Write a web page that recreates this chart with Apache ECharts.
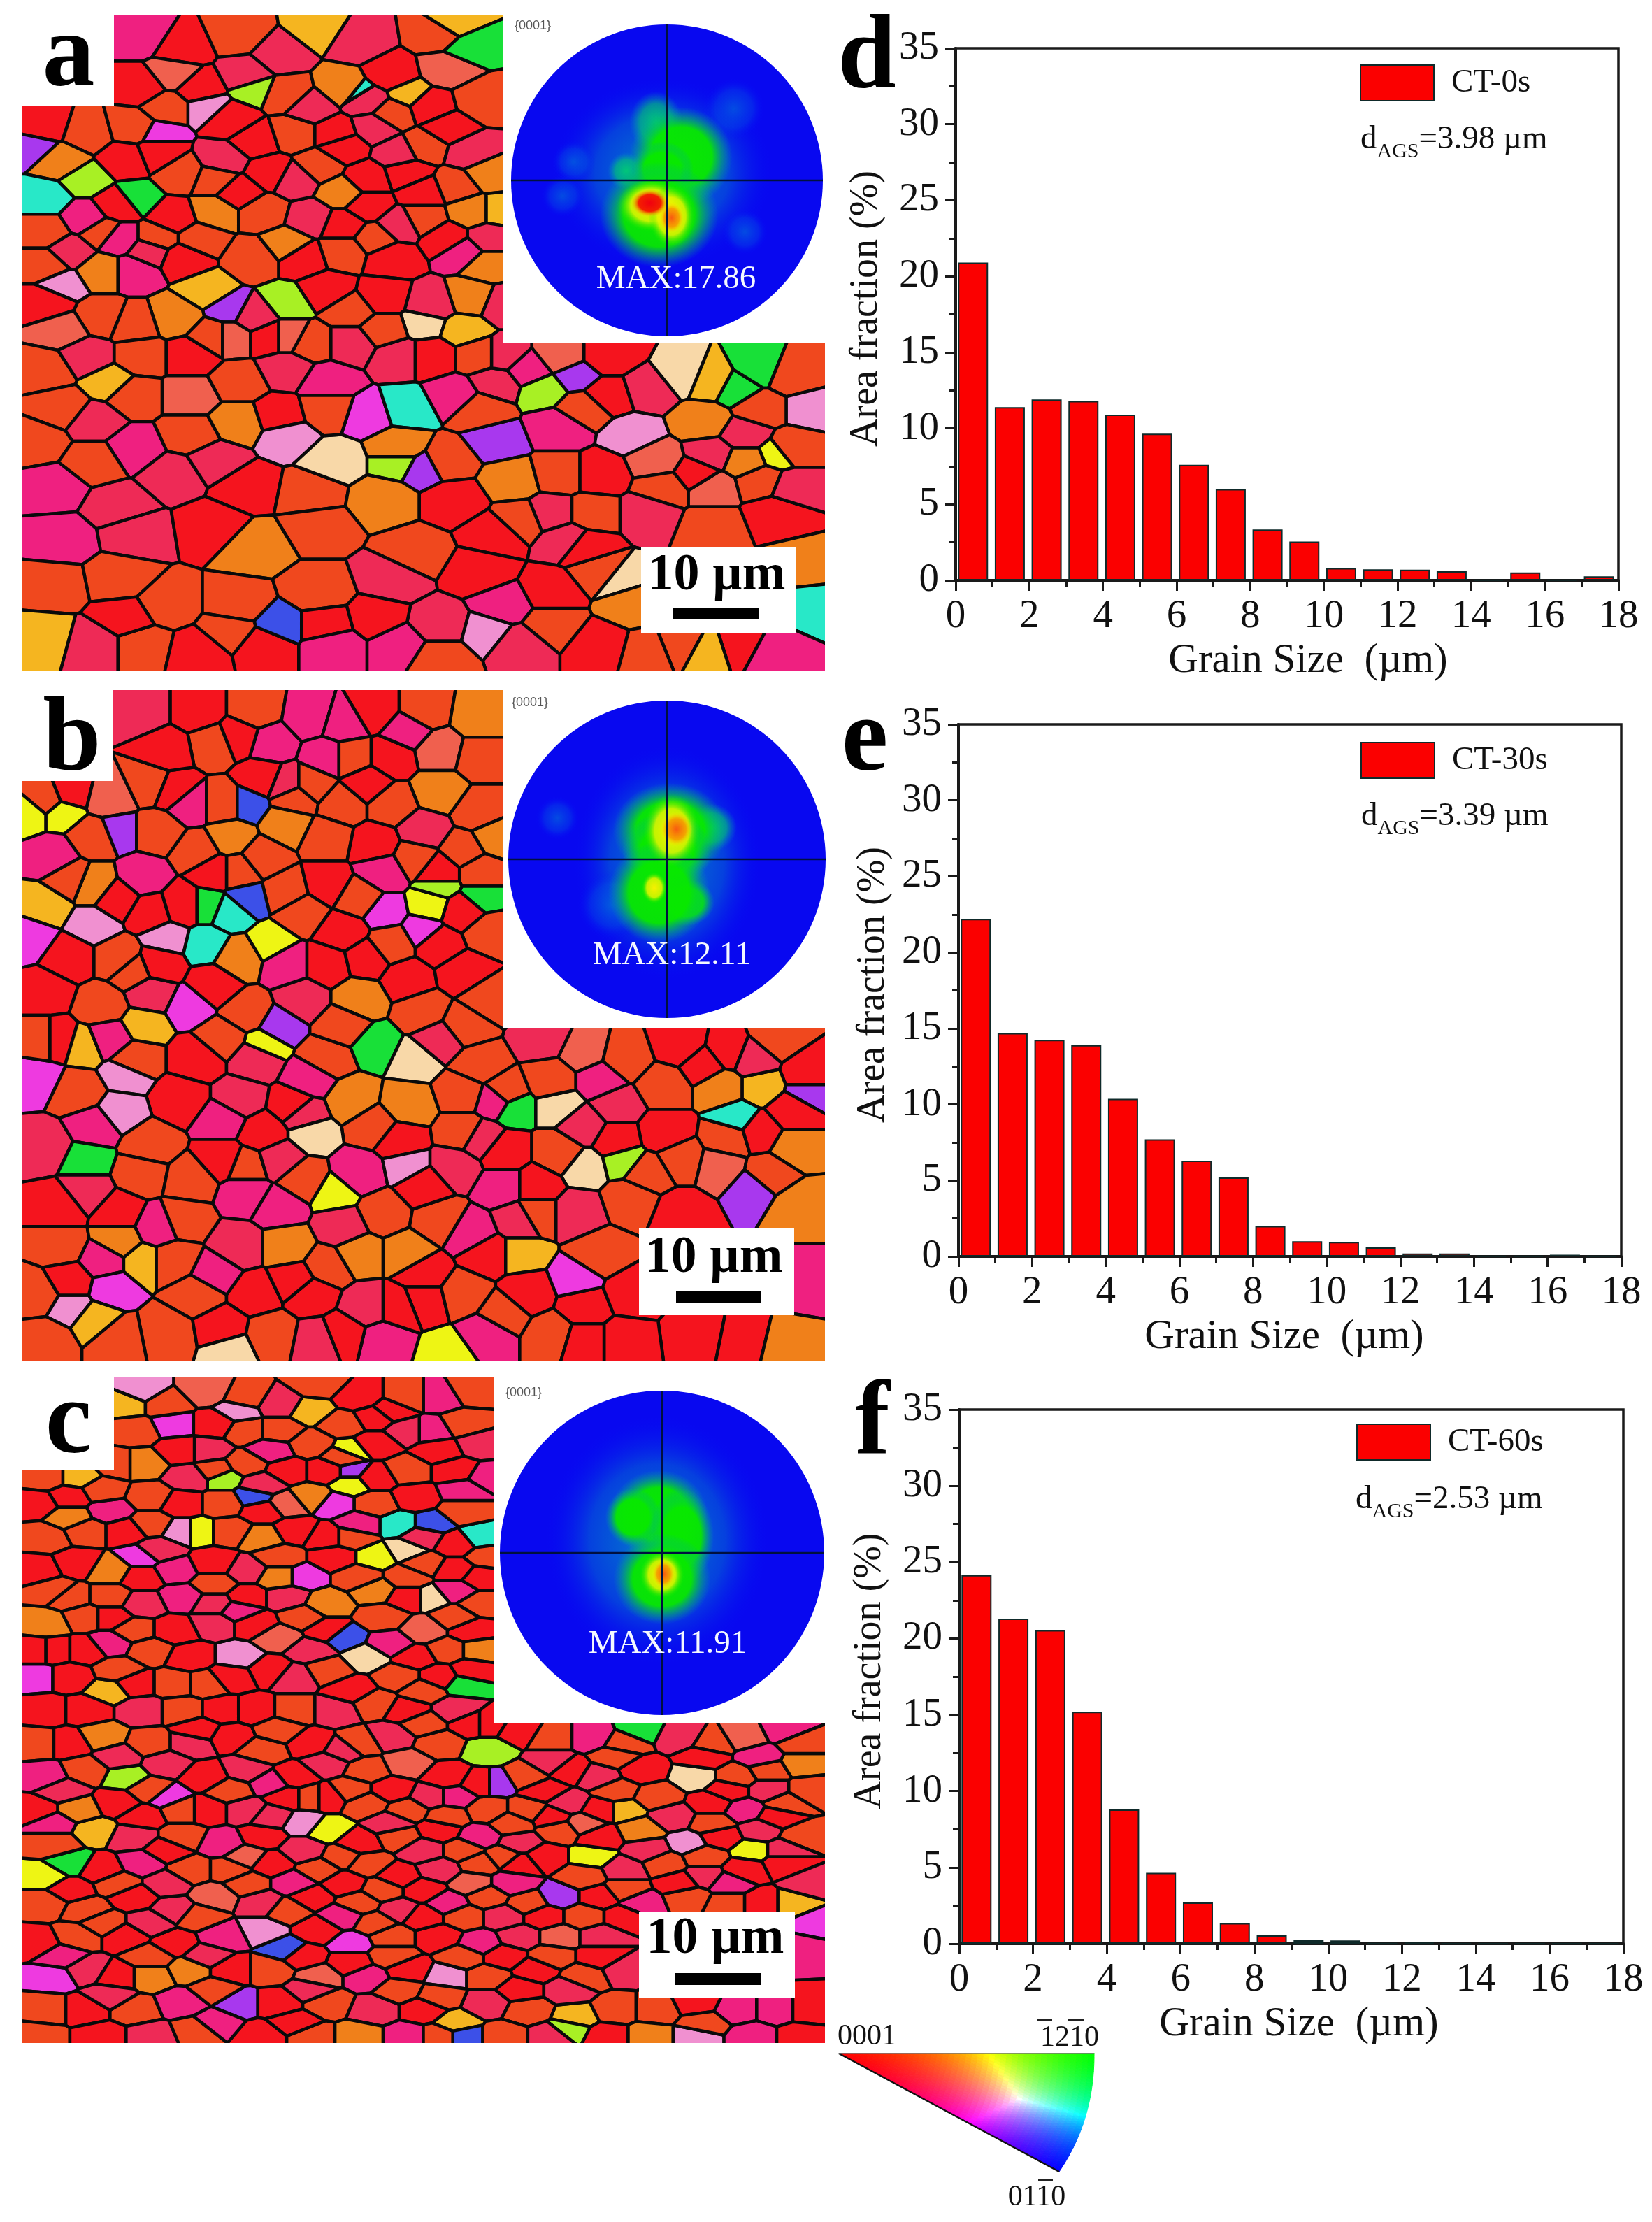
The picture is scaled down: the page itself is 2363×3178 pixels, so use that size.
<!DOCTYPE html>
<html><head><meta charset="utf-8">
<script src="https://cdn.jsdelivr.net/npm/echarts@6/dist/echarts.min.js"></script>
<style>html,body{margin:0;background:#fff}#c{width:2363px;height:3178px}</style></head>
<body><div id="c"></div>
<script>
// grain orientation colours
const R='#f5141e',O='#f0481e',A='#f0801a',P='#ee2a56',H='#ef2080',S='#f0604e',Y='#f5b520',L='#eef514',
      G='#18e038',C='#a8f024',M='#ee3ae0',V='#a838ee',B='#3c50e8',T='#28e8c8',K='#f090d0',W='#f8d8a8';
const commonColours=[R,O,A,P,H,S];

// histogram data
const binCentres=[0.47,1.47,2.47,3.47,4.47,5.47,6.47,7.47,8.47,9.47,10.47,11.47,12.47,13.47,14.47,15.47,16.47,17.47];
const areaCT0=[20.9,11.4,11.9,11.8,10.9,9.65,7.6,6.0,3.35,2.55,0.8,0.72,0.7,0.6,0.03,0.52,0.03,0.27];
const areaCT30=[22.2,14.7,14.25,13.9,10.37,7.7,6.3,5.2,2.0,1.0,0.95,0.6,0.2,0.2,0.03,0.03,0.12,0.02];
const areaCT60=[24.15,21.3,20.55,15.2,8.8,4.65,2.7,1.35,0.55,0.23,0.22,0.02,0.08,0.01,0.01,0.01,0.01,0.01];
const sampleNames=['CT-0s','CT-30s','CT-60s'];
const meanSizes=['3.98','3.39','2.53'];
const maxValues=['17.86','12.11','11.91'];
const panelLetters=['a','b','c','d','e','f'];
const xTicksMax=18,yTicksMax=35;

// grains: [x %, y %, orientation colour]
const grainsA=[[15,3,H],[20,5,R],[27,3,O],[32,6,P],[37,2,Y],[42,4,P],[46,9,R],[52,3,O],[53,8,S],[53,2,Y],[55,5,G],
[15,11,R],[22,11,R],[19,9,S],[28,9,P],[33,12,O],[40,11,A],[48,12,Y],[43,13,P],[51,14,R],[57,13,O],[29,11,C],[42,12,T],
[3,17,R],[8,18,O],[14,17,O],[17,18,M],[23,14,K],[29,19,R],[34,18,O],[39,18,R],[44,17,P],[50,20,O],[56,21,P],[2,20,V],[5,22,A],[8,25,C],[13,22,R],[20,24,O],[25,22,P],[31,24,R],[37,23,O],[43,25,R],[48,24,R],[54,26,O],[58,24,A],
[3,28,T],[3,33,O],[8,31,H],[12,29,R],[14,28,G],[19,31,R],[24,30,A],[30,30,O],[36,31,P],[43,29,R],[44,34,O],[50,31,O],[56,30,A],[59,30,Y],[6,36,P],[12,34,H],[17,34,O],
[3,38,O],[10,39,A],[14,39,H],[16,36,P],[20,37,R],[23,42,Y],[29,37,O],[35,37,R],[40,36,O],[46,37,R],[55,36,H],[58,38,A],[5,41,K],[10,46,O],[3,44,R],[5,48,S],[26,45,V],[33,44,C],[38,42,R],[45,43,R],[51,44,P],[56,43,A],[50,47,W],[55,48,Y],[19,46,A],[14,47,O],[15,52,O],[21,52,R],[26,49,S],[31,49,R],[36,50,O],[41,50,P],[47,52,P],[51,52,R],[57,52,O],
[3,54,O],[8,52,P],[11,56,Y],[5,60,O],[14,58,O],[21,58,S],[27,56,O],[33,54,P],[38,56,H],[43,61,M],[48,60,T],[54,58,H],[59,56,P],[63,54,H],[67,52,S],[65,57,C],[69,55,V],[73,58,R],[78,57,P],[82,55,W],[89,57,G],[92,54,G],[86,56,Y],[96,55,O],[98,60,K],
[2,65,O],[9,62,P],[14,66,H],[21,64,O],[27,62,A],[32,61,R],[33,64,K],[47,66,A],[53,68,O],[59,65,V],[67,63,H],[76,64,K],[85,62,A],[90,64,P],[96,66,O],[79,68,S],
[4,72,H],[12,75,P],[19,70,P],[28,72,R],[36,73,O],[39,68,W],[47,68,C],[50,69,V],[45,74,A],[54,74,R],[61,71,A],[67,70,O],[72,70,R],[80,72,O],[86,72,S],[92,71,O],[94,67,L],
[5,80,H],[14,79,P],[24,78,R],[29,81,A],[37,78,O],[49,82,O],[59,79,R],[66,76,P],[71,76,O],[78,76,P],[86,78,O],[94,76,R],
[4,87,O],[12,86,O],[18,90,O],[27,90,O],[37,88,O],[46,86,P],[57,85,R],[60,90,H],[68,80,P],[72,85,O],[74,86,W],[76,90,A],[82,96,O],[90,96,R],[97,84,A],[98,90,T],
[3,95,Y],[9,96,P],[15,96,O],[22,97,R],[30,96,R],[38,93,R],[32,93,B],[39,96,H],[47,96,H],[52,93,P],[58,94,K],[66,93,O],[72,96,R],[85,97,Y],[93,97,H],
[18,14,O],[26,16,R],[36,14,P],[46,15,O],[40,20,R],[47,21,P],[53,17,R],[34,25,P],[40,27,A],[27,27,R],[17,21,R],[10,33,O],[22,34,O],[33,35,A],[40,32,R],[47,32,P],[53,34,R],[58,34,P],[24,25,O],[50,27,R],[45,48,O],[33,49,S],[29,46,P],[24,49,O],[41,45,O],[60,44,P],[70,60,O],[73,52,R],[60,52,P],[86,67,P],[92,60,O],[57,60,O],[38,60,O],[9,68,O],[24,68,P],[62,77,O],[70,81,R],[84,70,R],[90,68,A],[96,72,P],[66,88,R],[62,96,P],[26,94,O],[13,92,R],[78,97,O],[44,92,R],[52,98,O]];

const grainsB=[[15,3,P],[22,3,R],[24,8,O],[29,3,O],[31,8,H],[36,4,H],[30,13,R],[40,5,H],[44,3,R],[50,3,O],[52,9,S],[57,4,A],[46,10,R],[38,10,H],[33,14,P],
[3,16,O],[6,15,R],[5,18,L],[1,18,L],[11,16,S],[16,14,O],[19,15,R],[21,17,H],[25,17,O],[28,17,B],[34,16,O],[40,17,O],[46,17,O],[52,15,A],[57,18,O],
[4,25,H],[9,22,O],[12,21,V],[17,21,O],[22,24,O],[26,22,A],[33,20,A],[38,22,O],[44,23,R],[50,21,P],[55,24,O],[59,22,A],[9,29,A],[15,28,H],[20,32,R],[27,27,O],[33,30,O],[38,29,R],[45,27,H],[52,27,R],[57,27,O],[3,32,Y],[9,35,K],
[16,33,R],[23,32,G],[28,31,B],[26,33,T],[45,33,M],[51,32,L],[57,31,G],[52,29,C],[50,36,M],[35,33,O],[40,36,R],[58,36,O],
[1,37,M],[6,40,R],[12,40,O],[18,37,K],[23,38,T],[27,40,A],[31,38,L],[38,41,R],[43,40,R],[48,43,R],[55,42,R],[58,46,O],[3,45,R],[10,47,O],[16,45,P],[21,47,M],[28,48,O],[35,46,P],[42,46,A],[50,48,O],[55,50,O],
[4,52,R],[8,53,Y],[14,55,O],[11,52,H],[15,50,Y],[22,55,R],[29,55,P],[32,50,V],[30,53,L],[38,55,O],[44,53,G],[49,55,W],[57,56,O],[60,60,O],[65,52,P],[70,54,S],[75,55,O],[82,53,R],[88,54,R],[94,52,O],[98,57,R],
[2,58,M],[7,60,O],[13,57,K],[20,61,R],[27,61,P],[34,62,R],[41,61,A],[48,62,A],[55,60,O],[59,61,H],[61,62,G],[67,62,W],[74,62,P],[80,59,O],[87,59,A],[92,59,Y],[98,60,V],
[3,68,P],[9,65,H],[12,63,K],[16,68,O],[25,64,H],[30,66,R],[44,65,O],[35,63,P],[36,66,W],[47,67,R],[55,66,O],[60,69,R],[67,69,O],[74,67,R],[80,66,R],[88,67,O],[89,64,T],[96,68,A],
[8,75,P],[8,70,G],[15,72,O],[21,73,O],[28,71,O],[35,73,O],[42,72,H],[48,71,K],[54,71,P],[60,74,H],[70,71,W],[75,70,C],[82,70,O],[87,71,S],[93,72,O],
[5,77,R],[12,78,R],[20,79,O],[28,75,H],[32,77,H],[39,75,L],[45,78,O],[52,79,O],[56,81,H],[62,79,P],[69,78,P],[76,76,O],[82,78,R],[91,74,V],[97,77,A],
[5,83,O],[12,82,A],[19,85,O],[10,85,H],[27,83,P],[33,83,A],[38,86,O],[42,84,A],[50,87,R],[58,84,R],[62,84,Y],[72,84,O],[2,90,O],[6,92,K],[11,89,M],[15,85,Y],[22,90,O],[29,90,R],[36,90,R],[43,92,P],[50,91,R],[55,90,O],[63,90,R],[70,92,R],[69,88,M],[76,90,R],[84,96,R],[90,97,R],[97,88,H],
[9,94,Y],[18,96,O],[25,95,R],[31,96,O],[26,98,W],[37,97,P],[45,97,H],[53,99,L],[58,96,H],[66,96,O],[75,97,R],[95,98,A],[3,97,O],
[18,9,R],[27,7,R],[41,10,O],[48,6,H],[57,10,O],[36,14,O],[43,14,R],[6,28,O],[12,31,R],[24,27,R],[30,25,O],[42,31,O],[49,25,O],[55,33,R],[17,41,R],[33,41,H],[46,38,O],[52,38,R],[24,44,R],[40,50,O],[14,42,O],[3,52,O],[25,52,O],[36,58,H],[52,52,P],[66,58,O],[72,58,H],[85,56,R],[91,55,P],[96,63,R],[25,70,R],[32,70,P],[50,74,R],[57,67,P],[64,74,R],[70,65,P],[78,72,O],[92,66,R],[40,80,P],[48,84,A],[64,78,O],[34,88,R],[17,80,H],[6,88,R],[24,87,H],[47,92,R],[60,93,O],[70,97,R],[12,97,O],[40,96,R]];

const grainsC=[[19,7,M],[13,4,Y],[36,5,Y],[41,11,L],[41,14,V],[7,15,Y],[25,15,C],[41,16,L],[29,18,B],[39,19,M],[51,22,B],[47,22,T],[22,23,L],[20,23,K],[48,26,W],[44,27,L],[57,24,T],[15,27,M],[35,30,M],[51,33,W],[44,32,A],[40,39,B],[43,42,W],[55,46,G],[11,47,Y],[2,45,M],[27,42,K],[32,39,S],[11,40,H],
[77,53,G],[58,56,C],[84,60,W],[13,60,C],[18,63,M],[59,61,V],[75,65,Y],[81,66,P],[9,68,Y],[6,73,G],[3,75,L],[38,68,L],[35,67,K],[83,70,K],[91,71,L],[71,72,L],[77,68,A],[67,78,V],[96,79,Y],[99,82,M],[33,86,B],[41,85,M],[16,90,A],[4,90,M],[30,83,K],[27,94,V],[89,95,H],[54,97,Y],[69,96,Y],[55,99,B],[84,99,K],[68,98,C],
[15,2,K],[18,4,O],[23,2,S],[28,3,O],[32,4,P],[37,1,O],[42,3,R],[46,5,R],[52,3,H],[56,2,O],[51,8,H],[14,8,O],[24,7,R],[28,8,O],[32,8,O],[40,7,O],[44,6,R],[48,8,P],[55,7,O],[23,11,P],[31,11,H],[36,10,O],[44,10,R],[52,11,R],[57,10,P],
[3,15,O],[12,13,O],[15,13,A],[21,15,P],[28,13,O],[33,14,R],[38,14,R],[44,15,R],[48,14,O],[54,14,R],[58,15,H],[2,19,R],[6,18,R],[11,20,H],[16,18,O],[20,19,R],[25,19,O],[33,19,S],[36,18,A],[44,19,O],[49,18,R],[55,20,O],
[3,24,O],[8,23,O],[13,23,R],[17,26,P],[26,23,O],[30,24,A],[34,23,R],[38,24,R],[42,22,H],[54,25,R],[58,27,O],[2,29,R],[7,28,R],[11,29,A],[19,29,H],[24,28,R],[28,29,P],[32,27,O],[39,27,R],[50,28,O],[54,29,R],[6,33,O],
[11,33,O],[15,34,P],[20,33,H],[24,34,P],[28,33,R],[33,33,P],[38,34,A],[48,33,R],[54,32,H],[57,34,O],[3,37,A],[8,36,O],[14,38,O],[19,38,R],[24,37,P],[29,37,R],[35,36,O],[45,36,O],[50,38,S],[56,38,R],
[4,41,R],[8,41,R],[16,41,O],[21,42,R],[36,41,P],[46,40,H],[49,42,R],[53,41,O],[57,41,A],[6,45,R],[14,46,R],[19,46,O],[23,46,O],[31,44,R],[34,45,P],[38,44,O],[47,45,O],[52,45,R],
[3,50,R],[8,50,R],[15,50,P],[20,50,O],[25,50,R],[29,50,R],[34,50,O],[39,50,P],[44,49,O],[48,50,R],[54,50,P],[58,52,R],
[2,55,O],[6,55,R],[10,54,A],[16,55,O],[21,55,P],[26,54,R],[30,56,O],[36,55,R],[42,55,O],[46,54,P],[52,55,O],[62,53,R],[66,54,O],[71,54,H],[75,55,O],[82,54,P],[86,55,O],[90,54,S],[95,53,H],
[3,60,H],[8,59,O],[18,58,P],[23,60,R],[28,59,P],[34,60,R],[38,58,P],[43,59,O],[48,58,S],[53,60,R],[63,60,O],[68,59,R],[72,60,P],[77,59,R],[89,60,O],[93,59,O],[97,58,A],
[2,65,R],[7,65,A],[12,64,R],[23,65,R],[28,65,P],[33,63,R],[38,63,R],[43,64,O],[48,65,O],[54,63,H],[58,65,O],[63,65,O],[68,64,P],[72,65,R],[86,64,R],[90,65,H],[95,64,O],
[4,70,O],[14,69,P],[20,69,O],[25,70,H],[30,69,R],[42,70,R],[47,69,O],[52,68,R],[57,69,H],[62,70,P],[67,68,O],[72,69,R],[87,69,R],[92,68,P],[97,69,O],
[10,74,R],[15,73,H],[21,74,O],[26,74,O],[31,73,R],[37,74,O],[43,73,O],[47,75,R],[52,74,P],[57,73,O],[62,73,R],[75,74,P],[80,73,O],[85,75,P],[90,74,R],[95,73,R],
[3,79,O],[8,80,O],[14,78,R],[19,80,P],[24,78,S],[30,79,P],[36,78,R],[42,79,O],[47,80,P],[53,79,H],[58,78,O],[63,79,O],[72,78,R],[77,79,H],[83,78,O],[88,79,O],[92,79,R],
[2,85,R],[7,84,O],[13,84,R],[19,85,R],[25,84,H],[37,83,R],[46,84,O],[52,84,R],[57,85,H],[62,84,P],[67,84,S],[72,84,P],[97,86,H],
[8,89,P],[12,90,R],[21,89,A],[26,89,R],[31,89,O],[37,90,S],[43,90,H],[48,89,R],[53,90,K],[58,90,O],[64,89,R],[70,90,O],[75,89,P],
[3,95,O],[8,95,R],[14,95,O],[20,94,H],[32,94,R],[38,94,O],[44,95,P],[50,95,R],[58,94,P],[63,95,O],[74,95,O],[79,95,O],[84,94,R],[94,95,H],[98,95,R],
[2,99,O],[10,99,R],[16,99,P],[22,98,O],[30,99,R],[36,99,O],[42,99,A],[48,99,H],[60,99,O],[73,99,R],[78,99,A],[91,99,H],[97,99,R],
[22,53,R],[12,57,P],[32,53,O],[40,56,P],[50,52,O],[56,52,R],[66,58,P],[74,57,O],[85,57,R],[92,57,H],[97,55,O],[5,62,P],[16,62,O],[26,62,O],[31,61,H],[41,62,O],[46,62,R],[51,63,P],[57,61,R],[65,62,R],[74,62,O],[79,63,O],[88,62,R],[93,62,P],[98,62,O],[4,67,H],[15,66,R],[20,65,O],[31,66,P],[36,63,O],[46,67,P],[53,66,O],[61,67,O],[66,66,R],[70,67,S],[86,67,O],[94,66,R],[18,71,R],[28,72,S],[35,71,P],[40,72,O],[50,71,P],[55,71,O],[60,72,O],[65,72,R],[78,71,P],[85,72,O],[95,71,P],[6,77,R],[12,76,O],[18,76,P],[28,76,O],[34,76,H],[40,76,R],[45,77,O],[50,77,R],[56,76,S],[61,76,H],[70,75,O],[75,77,O],[82,76,R],[88,76,H],[98,76,P],[10,82,O],[16,82,P],[22,81,O],[33,80,O],[40,81,H],[44,82,O],[50,81,R],[55,81,O],[60,81,P],[65,81,R],[70,81,O],[75,81,R],[5,87,H],[16,87,O],[23,87,P],[35,87,R],[41,88,R],[46,87,O],[55,87,O],[60,87,R],[66,87,O],[72,87,R],[11,93,P],[24,92,O],[36,92,P],[47,92,O],[52,93,O],[62,92,R],[68,92,P],[24,97,H],[34,97,R],[52,99,O],[66,99,P],[85,97,O],
[20,11,R],[27,5,K],[48,3,O],[10,17,O],[24,14,O],[30,16,P],[40,12,O],[55,17,H],[6,21,A],[16,22,O],[30,20,R],[41,24,O],[50,24,P],[4,32,O],[15,30,R],[24,31,O],[32,30,A],[42,30,O],[48,30,O],[57,30,R],[11,36,R],[27,35,H],[38,38,R],[54,36,O],[2,41,R],[12,44,O],[26,45,R],[41,47,R],[50,47,O],[56,44,R]];

// pole figure intensity blobs: [x, y, rx, ry, level] on the unit disc
const poleA=[[-.03,.05,.72,.62,0],[.43,.46,.2,.2,6],[-.67,-.1,.14,.14,6],[.5,-.33,.15,.15,6],[-.6,.12,.14,.14,6],[-.07,.37,.17,.2,1],[-.26,.06,.12,.12,1],[.09,.15,.33,.32,2],[-.03,.07,.2,.18,2],[-.05,-.22,.38,.34,2],[-.1,-.16,.22,.17,3],[.03,-.23,.15,.2,3],[.03,-.24,.08,.1,4],[-.11,-.145,.12,.09,5]];
const poleB=[[0,-.02,.6,.75,0],[-.69,.26,.14,.14,6],[-.35,-.29,.22,.22,6],[.28,.2,.16,.15,1],[.12,-.27,.18,.15,2],[.02,.18,.36,.3,2],[0,.05,.28,.25,2],[-.05,-.21,.32,.32,2],[.03,.18,.18,.23,3],[-.08,-.18,.08,.1,3],[.06,.19,.1,.11,4]];
const poleC=[[-.03,.08,.7,.78,0],[-.02,.24,.3,.27,2],[-.18,.22,.17,.18,2],[.12,.1,.2,.3,2],[0,-.16,.3,.28,2],[0,-.135,.14,.15,3],[.01,-.13,.07,.09,4]];
const poleLevels=[['rgba(0,170,190,.75)','rgba(0,170,190,.35)','rgba(0,0,255,0)'],['rgba(0,210,110,.9)','rgba(0,210,110,.6)','rgba(0,160,190,0)'],['#08e800','rgba(8,232,0,.96)','rgba(0,170,150,0)'],['#f8f000','rgba(230,245,0,.85)','rgba(8,232,0,0)'],['#f85a10','rgba(248,150,0,.85)','rgba(248,240,0,0)'],['#f00010','rgba(245,20,0,.95)','rgba(250,200,0,0)'],['rgba(0,130,215,.55)','rgba(0,110,225,.28)','rgba(0,0,255,0)']];
const poleCross=[[-1,0,1,0],[0,-1,0,1]];

// colour key: corners 0001, -12-10, 01-10 in key units
const keyCorners=[[0,0],[1,0],[.863,1]];
const keyTop='0001',keyRight='1210',keyBottom='0110';

// layouts
const barBox=[[1367,69,948,761],[1371,1036,948,761],[1372,2016,950,764]];
const mapBox=[[31,22,1149,937],[31,987,1149,959],[31,1970,1149,952]];
const poleCircle=[[954,258,223],[954,1229,227],[947,2221,232]];
const whiteBox=[[720,22,460,468],[720,987,460,483],[706,1970,474,495]];
const labelBox=[[31,22,132,130],[31,987,130,130],[31,1970,132,132]];
const scaleBox=[[917,782,222,123],[914,1756,222,125],[914,2735,223,122]];
const scaleBar=[[963,870,122,16],[967,1847,121,17],[965,2822,123,17]];
const scaleText=[[1025,824],[1021,1800],[1023,2774]];
const maxText=[[967,400],[961,1367],[955,2352]];
const tagText=[[762,37],[758,1005],[749,1992]];
const letterPos=[[98,82],[103,1062],[98,2038],[1240,86],[1237,1062],[1248,2040]];
const legendPos=[[1945,92],[1946,1061],[1940,2036]];
const meanPos=[[1946,204],[1947,1172],[1939,2149]];
const keyBars=[[1483,2888,22,3],[1528,2888,22,3],[1485,3116,21,3]];
const stretch=[1.15,1,1.45];
const rareWeight=[-2,-2,-1];
const xNameShift=[[0,0,0,60],[0,16,0,0],[0,0,0,22]];
const yNameGap=[100,94,100];
const SERIF='"Liberation Serif","Times New Roman",serif';

function voronoi(seeds,k,rare){
  const w=s=>commonColours.includes(s[2])?0:rare;
  return seeds.map((s,i)=>{
    let poly=[[-3,-3],[103,-3],[103,103],[-3,103]];
    seeds.forEach((t,j)=>{
      if(i===j||poly.length<3)return;
      const nx=t[0]-s[0],ny=(t[1]-s[1])*k*k,mx=(s[0]+t[0])/2,my=(s[1]+t[1])/2,off=(w(s)-w(t))/2;
      const f=p=>(p[0]-mx)*nx+(p[1]-my)*ny-off,out=[];
      poly.forEach((p,m)=>{
        const q=poly[(m+1)%poly.length],fp=f(p),fq=f(q);
        if(fp<=0)out.push(p);
        if((fp<0&&fq>0)||(fp>0&&fq<0)){const u=fp/(fp-fq);out.push([p[0]+(q[0]-p[0])*u,p[1]+(q[1]-p[1])*u]);}
      });
      poly=out;
    });
    return poly;
  });
}

const grid=[],xAxis=[],yAxis=[],series=[],legend=[],graphic=[];
function addHidden(box,xr,yr,inv){
  const i=grid.length;
  grid.push({left:box[0],top:box[1],width:box[2],height:box[3],show:false});
  xAxis.push({type:'value',gridIndex:i,min:xr[0],max:xr[1],show:false});
  yAxis.push({type:'value',gridIndex:i,min:yr[0],max:yr[1],show:false,inverse:!!inv});
  return i;
}
function text(x,y,str,size,extra){
  graphic.push({type:'text',x,y,z:30,silent:true,style:Object.assign({text:str,fontSize:size,fontFamily:SERIF,fill:'#111',align:'center',verticalAlign:'middle'},extra||{})});
}
function rect(b,fill,z){graphic.push({type:'rect',z:z,silent:true,shape:{x:b[0],y:b[1],width:b[2],height:b[3]},style:{fill:fill}});}

// EBSD maps
[grainsA,grainsB,grainsC].forEach((seeds,m)=>{
  const g=addHidden(mapBox[m],[0,100],[0,100],true),cells=voronoi(seeds,stretch[m],rareWeight[m]);
  series.push({type:'custom',coordinateSystem:'cartesian2d',xAxisIndex:g,yAxisIndex:g,z:1,silent:true,animation:false,clip:true,
    data:seeds.map(s=>[s[0],s[1]]),encode:{x:0,y:1},
    renderItem(p,api){
      const cell=cells[p.dataIndex];
      if(cell.length<3)return null;
      return {type:'polygon',shape:{points:cell.map(q=>api.coord(q))},
        style:{fill:seeds[p.dataIndex][2],stroke:'#0a0a0a',lineWidth:4.5,lineJoin:'round'}};
    }});
  rect(whiteBox[m],'#fff',3);
  rect(labelBox[m],'#fff',3);
  rect(scaleBox[m],'#fff',3);
  rect(scaleBar[m],'#000',4);
  text(scaleText[m][0],scaleText[m][1],'10 µm',74,{fontWeight:'bold',fill:'#000'});
  text(tagText[m][0],tagText[m][1],'{0001}',18,{fontFamily:'"Liberation Sans",sans-serif',fill:'#555'});
  text(maxText[m][0],maxText[m][1],'MAX:'+maxValues[m],47,{fill:'#f4f8ff'});
});

// pole figures
[poleA,poleB,poleC].forEach((blobs,m)=>{
  const c=poleCircle[m],g=addHidden([c[0]-c[2],c[1]-c[2],c[2]*2,c[2]*2],[-1,1],[-1,1]);
  const base={type:'custom',coordinateSystem:'cartesian2d',xAxisIndex:g,yAxisIndex:g,silent:true,animation:false,clip:false};
  series.push(Object.assign({},base,{z:5,data:[[0,0]],encode:{x:0,y:1},renderItem(p,api){
    const o=api.coord([0,0]),s=api.size([1,1]);
    return {type:'circle',shape:{cx:o[0],cy:o[1],r:s[0]},style:{fill:'#0808f0'}};
  }}));
  series.push(Object.assign({},base,{z:6,data:blobs,encode:{x:0,y:1},renderItem(p,api){
    const o=api.coord([api.value(0),api.value(1)]),s=api.size([api.value(2),api.value(3)]),l=poleLevels[api.value(4)];
    return {type:'circle',x:o[0],y:o[1],scaleX:s[0]/100,scaleY:s[1]/100,shape:{cx:0,cy:0,r:100},
      style:{fill:{type:'radial',x:.5,y:.5,r:.5,colorStops:[{offset:0,color:l[0]},{offset:.6,color:l[1]},{offset:1,color:l[2]}]}}};
  }}));
  series.push(Object.assign({},base,{z:7,data:poleCross,encode:{x:0,y:1},renderItem(p,api){
    const a=api.coord([api.value(0),api.value(1)]),b=api.coord([api.value(2),api.value(3)]);
    return {type:'line',shape:{x1:a[0],y1:a[1],x2:b[0],y2:b[1]},style:{stroke:'#001040',lineWidth:2.5}};
  }}));
});

// histograms
[areaCT0,areaCT30,areaCT60].forEach((vals,m)=>{
  const b=barBox[m],i=grid.length;
  grid.push({left:b[0],top:b[1],width:b[2],height:b[3],show:true,borderColor:'#1a1a1a',borderWidth:3.5,backgroundColor:'#fff'});
  const lab={fontFamily:SERIF,fontSize:57,color:'#111'};
  xAxis.push({type:'value',gridIndex:i,min:0,max:xTicksMax,interval:2,name:'Grain Size  (µm)',nameLocation:'middle',nameGap:86,
    nameTextStyle:{fontFamily:SERIF,fontSize:59,color:'#111',padding:xNameShift[m]},
    axisLine:{show:true,lineStyle:{color:'#1a1a1a',width:4}},axisTick:{show:true,length:15,lineStyle:{color:'#1a1a1a',width:3}},
    minorTick:{show:true,splitNumber:2,length:9,lineStyle:{color:'#1a1a1a',width:3}},splitLine:{show:false},minorSplitLine:{show:false},
    axisLabel:Object.assign({margin:24,showMinLabel:true,showMaxLabel:true,hideOverlap:false},lab)});
  yAxis.push({type:'value',gridIndex:i,min:0,max:yTicksMax,interval:5,name:'Area fraction (%)',nameLocation:'middle',nameGap:yNameGap[m],nameRotate:90,
    nameTextStyle:{fontFamily:SERIF,fontSize:56,color:'#111',padding:[0,0,0,16]},
    axisLine:{show:true,lineStyle:{color:'#1a1a1a',width:4}},axisTick:{show:true,length:15,lineStyle:{color:'#1a1a1a',width:3}},
    minorTick:{show:true,splitNumber:2,length:9,lineStyle:{color:'#1a1a1a',width:3}},splitLine:{show:false},minorSplitLine:{show:false},
    axisLabel:Object.assign({margin:24,showMinLabel:true,showMaxLabel:true,hideOverlap:false},lab)});
  series.push({type:'bar',name:sampleNames[m],xAxisIndex:i,yAxisIndex:i,barWidth:43,z:8,silent:true,animation:false,
    data:vals.map((v,j)=>[binCentres[j],v]),itemStyle:{color:'#fb0000',borderColor:'#0f2a2a',borderWidth:2}});
  legend.push({show:true,data:[sampleNames[m]],left:legendPos[m][0],top:legendPos[m][1],padding:0,itemWidth:105,itemHeight:51,itemGap:0,icon:'rect',
    selectedMode:false,textStyle:{fontFamily:SERIF,fontSize:47,color:'#111',padding:[0,0,0,20]}});
  const rich={a:{fontFamily:SERIF,fontSize:47,fill:'#111',verticalAlign:'bottom',padding:[0,0,9,0]},
              s:{fontFamily:SERIF,fontSize:30,fill:'#111',verticalAlign:'bottom'}};
  graphic.push({type:'text',x:meanPos[m][0],y:meanPos[m][1],z:30,silent:true,
    style:{text:'{a|d}{s|AGS}{a|='+meanSizes[m]+' µm}',rich,verticalAlign:'middle',align:'left'}});
});

// panel letters
panelLetters.forEach((t,i)=>text(letterPos[i][0],letterPos[i][1],t,150,{fontWeight:'bold',fill:'#000'}));

// colour key
{
  const g=addHidden([1200,2937,365,169],[0,1],[0,1],true),N=44,bulge=[.035,.03];
  const pt=(a,b,c)=>[a*keyCorners[0][0]+b*keyCorners[1][0]+c*keyCorners[2][0]+4*b*c*bulge[0],
                     a*keyCorners[0][1]+b*keyCorners[1][1]+c*keyCorners[2][1]+4*b*c*bulge[1]];
  const tint=(a,b,c)=>{const r=1.42*a,m=Math.max(r,b,c),h=v=>Math.round(255*Math.min(1,v/m));return 'rgb('+h(r)+','+h(b)+','+h(c)+')';};
  series.push({type:'custom',coordinateSystem:'cartesian2d',xAxisIndex:g,yAxisIndex:g,z:5,silent:true,animation:false,clip:false,
    data:[[0,0]],encode:{x:0,y:1},renderItem(p,api){
      const kids=[];
      const tri=(A,Bb,Cc)=>{const col=tint((A[0]+Bb[0]+Cc[0])/3,(A[1]+Bb[1]+Cc[1])/3,(A[2]+Bb[2]+Cc[2])/3);
        kids.push({type:'polygon',shape:{points:[A,Bb,Cc].map(v=>api.coord(pt(v[0],v[1],v[2])))},style:{fill:col,stroke:col,lineWidth:1}});};
      for(let i=0;i<N;i++)for(let j=0;j<N-i;j++){
        const k=N-i-j;
        tri([k/N,i/N,j/N],[(k-1)/N,(i+1)/N,j/N],[(k-1)/N,i/N,(j+1)/N]);
        if(k>=2)tri([(k-1)/N,(i+1)/N,j/N],[(k-1)/N,i/N,(j+1)/N],[(k-2)/N,(i+1)/N,(j+1)/N]);
      }
      kids.push({type:'polyline',shape:{points:[api.coord(pt(1,0,0)),api.coord(pt(0,0,1))]},style:{stroke:'#111',lineWidth:2.5,fill:null}});
      kids.push({type:'polyline',shape:{points:[api.coord(pt(1,0,0)),api.coord(pt(0,1,0))]},style:{stroke:'#777',lineWidth:1.5,fill:null}});
      return {type:'group',children:kids};
    }});
  text(1240,2913,keyTop,42);
  text(1530,2915,keyRight,42);
  text(1483,3143,keyBottom,42);
  keyBars.forEach(b=>rect(b,'#222',30));
}

const chart=echarts.init(document.getElementById('c'),null,{renderer:'canvas',width:2363,height:3178});
chart.setOption({animation:false,backgroundColor:'#fff',tooltip:{show:false},grid,xAxis,yAxis,series,legend,graphic});
</script></body></html>
